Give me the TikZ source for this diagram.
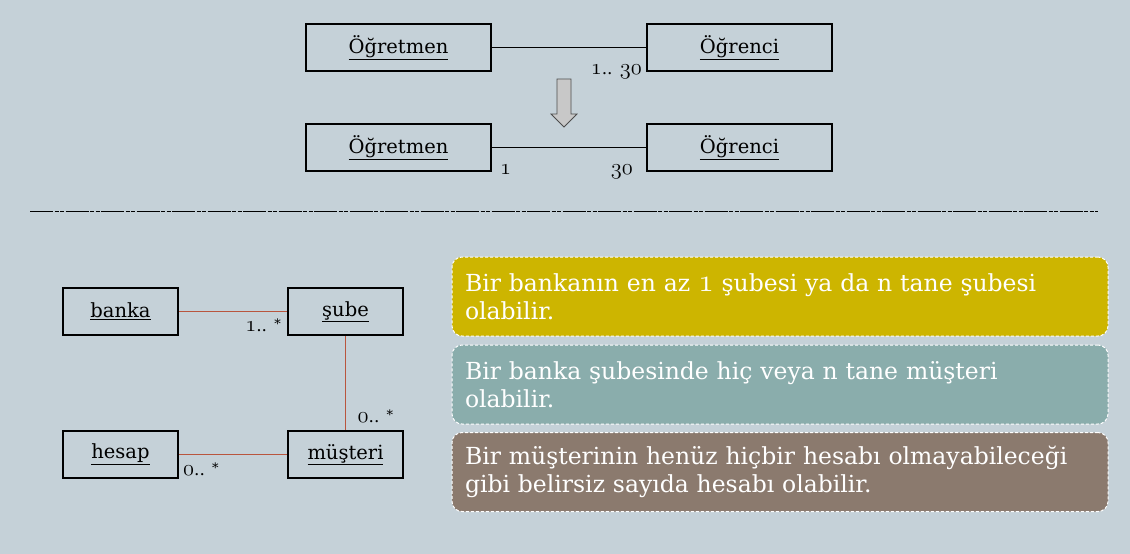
\documentclass[tikz,border=0pt]{standalone}
\usepackage{fontspec}
\setmainfont{DejaVu Serif}
\newcommand\osn[1]{\scalebox{1.3}{$\mathnormal{#1}$}}
\newcommand\mystar{{\fontsize{13}{13}\selectfont\raisebox{3pt}{*}}}
\definecolor{bg}{RGB}{197,209,216}
\definecolor{rust}{RGB}{185,85,62}
\definecolor{ylw}{RGB}{205,181,0}
\definecolor{teal2}{RGB}{138,173,172}
\definecolor{brn}{RGB}{139,122,110}
\definecolor{arrgray}{RGB}{200,200,200}
\begin{document}
\begin{tikzpicture}[x=1pt,y=-1pt,
  umlbox/.style={draw=black, line width=2pt, minimum width=185pt, minimum height=47pt, inner sep=0pt, font=\fontsize{19.5}{23}\selectfont},
  lbox/.style={draw=black, line width=2pt, minimum width=115pt, minimum height=47pt, inner sep=0pt, font=\fontsize{19.5}{23}\selectfont},
  mult/.style={inner sep=0pt, font=\fontsize{17}{20}\selectfont},
  conn/.style={draw=black, line width=1pt},
  rconn/.style={draw=rust, line width=1.1pt},
  tbox/.style={draw=white, dash pattern=on 3pt off 2pt, line width=1pt, rounded corners=10pt,
     text=white, text width=630pt, inner xsep=13pt, inner ysep=0pt, minimum height=79pt, align=left,
     font=\fontsize{23.5}{28}\selectfont}
]
\useasboundingbox[fill=bg] (0,0) rectangle (1130,554);

% top diagram
\node[umlbox] (t1) at (398.5,47.5) {\underline{Öğretmen}};
\node[umlbox] (t2) at (739.5,47.5) {\underline{Öğrenci}};
\draw[conn] (t1.east) -- (t2.west);
\node[mult, anchor=base east] (m1) at ([xshift=-4pt,yshift=-2pt]t2.south west) {\osn{1}.. \osn{30}};

\draw[draw=black!70, fill=arrgray, line width=0.8pt]
  (557,79) -- (571,79) -- (571,114) -- (577,114) -- (564,127) -- (551,114) -- (557,114) -- cycle;

\node[umlbox] (b1) at (398.5,147.5) {\underline{Öğretmen}};
\node[umlbox] (b2) at (739.5,147.5) {\underline{Öğrenci}};
\draw[conn] (b1.east) -- (b2.west);
\node[mult, anchor=base west] (m2) at ([xshift=8pt,yshift=-2pt]b1.south east) {\osn{1}};
\node[mult, anchor=base east] (m3) at ([xshift=-13pt,yshift=-2pt]b2.south west) {\osn{30}};

% separator
\coordinate (sepL) at (30,211.5);
\coordinate (sepR) at (1098,211.5);
\draw[line width=1pt, dash pattern=on 23pt off 1.5pt on 4pt off 1.5pt on 4pt off 1.5pt] (sepL) -- (sepR);

% lower-left diagram
\node[lbox] (banka) at (120.5,311.5) {\underline{banka}};
\node[lbox] (sube) at (345.5,311.5) {\underline{şube}};
\node[lbox] (hesap) at (120.5,454.5) {\underline{hesap}};
\node[lbox] (musteri) at (345.5,454.5) {\underline{müşteri}};
\draw[rconn] (banka.east) -- (sube.west);
\draw[rconn] (sube.south) -- (musteri.north);
\draw[rconn] (hesap.east) -- (musteri.west);
\node[mult, anchor=base east] (m4) at ([xshift=-6pt,yshift=5pt]sube.south west) {\osn{1}.. \mystar};
\node[mult, anchor=base west] (m5) at ([xshift=12pt,yshift=8pt]musteri.north) {\osn{0}.. \mystar};
\node[mult, anchor=base west] (m6) at ([xshift=4pt,yshift=4pt]hesap.south east) {\osn{0}.. \mystar};

% text boxes
\node[tbox, fill=ylw] (tx1) at (780,296.5) {Bir bankanın en az \osn{1} şubesi ya da n tane şubesi\\olabilir.};
\node[tbox, fill=teal2] (tx2) at (780,384.5) {Bir banka şubesinde hiç veya n tane müşteri\\olabilir.};
\node[tbox, fill=brn] (tx3) at (780,472) {Bir müşterinin henüz hiçbir hesabı olmayabileceği\\gibi belirsiz sayıda hesabı olabilir.};
\end{tikzpicture}
\end{document}
